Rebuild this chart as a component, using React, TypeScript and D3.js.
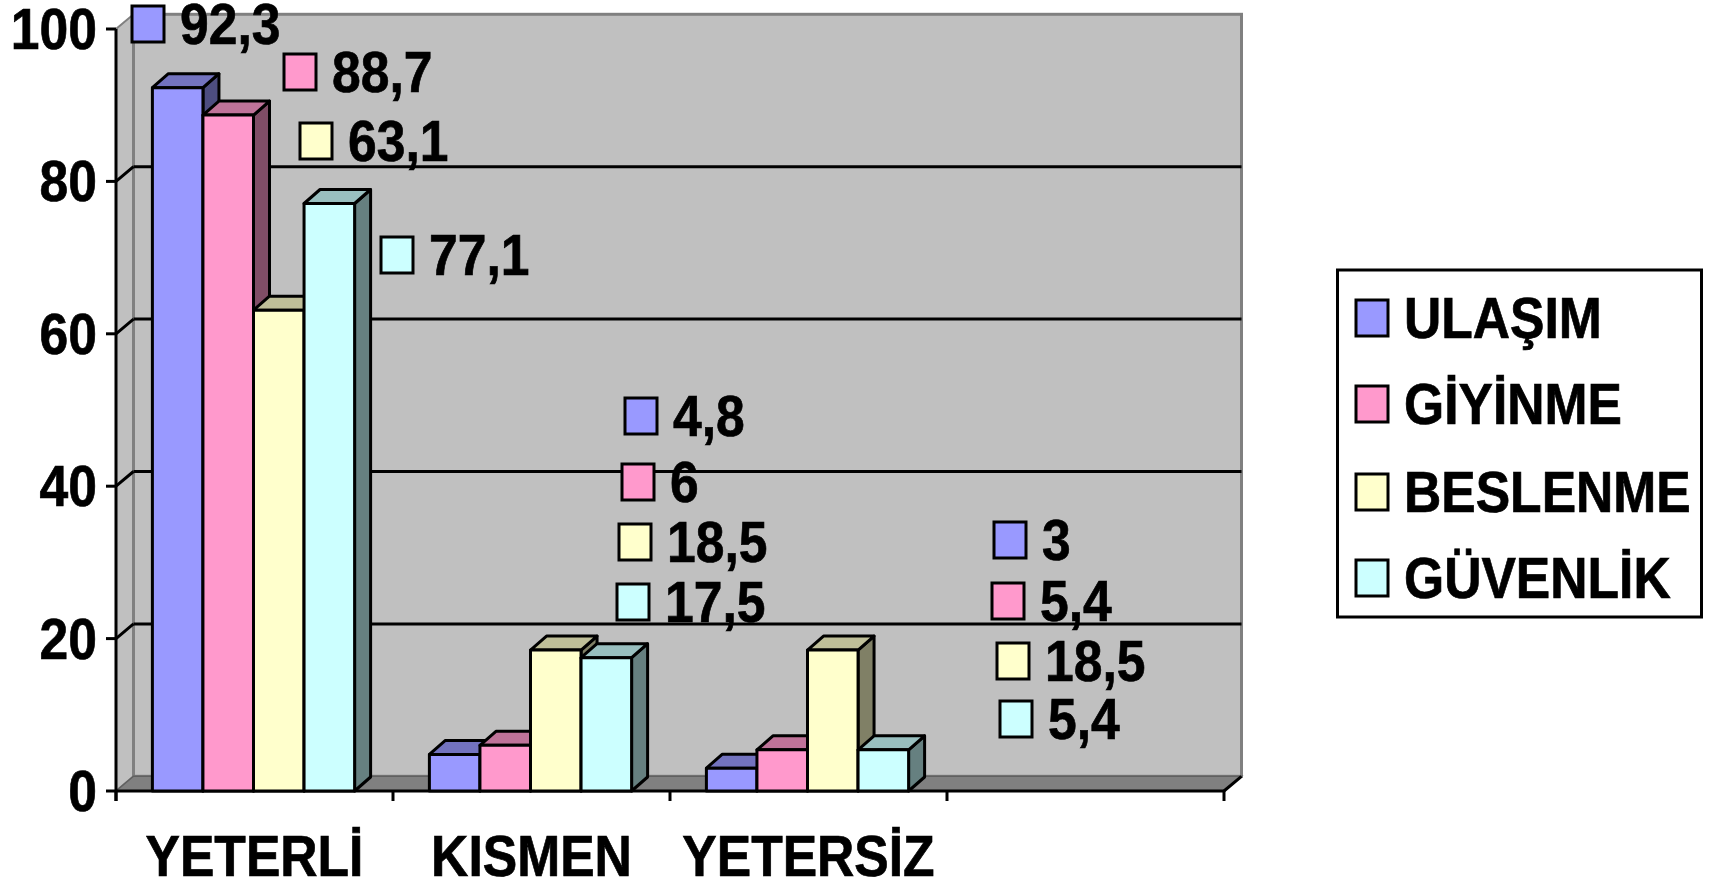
import React from "react";
import * as d3 from "d3";

const categories = ["YETERLİ", "KISMEN", "YETERSİZ", ""];
const seriesNames = ["ULAŞIM", "GİYİNME", "BESLENME", "GÜVENLİK"];
const ulasim = [92.3, 4.8, 3];
const giyinme = [88.7, 6, 5.4];
const beslenme = [63.1, 18.5, 18.5];
const guvenlik = [77.1, 17.5, 5.4];
const yTicks = [0, 20, 40, 60, 80, 100];
const seriesValues = [ulasim, giyinme, beslenme, guvenlik];

const fills = ["#9999FF", "#FF99CC", "#FFFFCC", "#CCFFFF"];
const tops = ["#7373BF", "#BF7399", "#BFBF99", "#99BFBF"];
const sides = ["#4D4D80", "#804D66", "#808066", "#668080"];

// Hand-placed label anchors: [key left, key centre y] per series, per category
const labelAnchors = [
  [[132, 24], [625, 416], [994, 540]],
  [[284, 72], [622, 482], [992, 601]],
  [[300, 141], [619, 542], [997, 661]],
  [[381, 255], [617, 602], [1000, 719]],
];
const legendRows = [318, 404, 492, 578];

const FONT = "'Liberation Sans', Arial, sans-serif";
const FONT_SIZE = 58;
const SX = 0.89;
const DX = 17.5;
const DY = 14.7;
const BX = 16;
const BY = 14;

const x0 = d3.scaleBand<string>().domain(categories).range([116, 1224]).paddingInner(0.27).paddingOuter(0.135);
const xInner = d3.scaleBand<number>().domain([0, 1, 2, 3]).range([0, x0.bandwidth()]);
const y = d3.scaleLinear().domain([0, 100]).range([791, 29]);

const ctx = document.createElement("canvas").getContext("2d") as CanvasRenderingContext2D;
function textWidth(s: string) {
  ctx.font = `bold ${FONT_SIZE}px 'Liberation Sans'`;
  return ctx.measureText(s).width * SX;
}

function Txt({ x, y: ty, s, anchor = "start" }: any) {
  const w = textWidth(s);
  const left = anchor === "end" ? x - w : anchor === "middle" ? x - w / 2 : x;
  return (
    <text
      transform={`translate(${left},${ty}) scale(${SX},1)`}
      fontFamily={FONT}
      fontWeight="bold"
      fontSize={FONT_SIZE}
      fill="#000"
      stroke="#000"
      strokeWidth={0.7}
    >
      {s}
    </text>
  );
}

export default function App() {
  const L = 116;
  const R = 1224;
  const Y0 = y(0);
  const Y100 = y(100);
  const tickXs = d3.range(5).map((i) => L + (i * (R - L)) / 4);
  return (
    <svg width={1713} height={883} style={{ position: "absolute", left: 0, top: 0, background: "#fff" }}>
      {/* walls */}
      <polygon points={`${L},${Y0} ${L + DX},${Y0 - DY} ${L + DX},${Y100 - DY} ${L},${Y100}`} fill="#C0C0C0" stroke="#808080" strokeWidth={2} />
      <rect x={L + DX} y={Y100 - DY} width={R - L} height={Y0 - Y100} fill="#C0C0C0" stroke="#808080" strokeWidth={3} />
      <polygon points={`${L},${Y0} ${L + DX},${Y0 - DY} ${R + DX},${Y0 - DY} ${R},${Y0}`} fill="#808080" stroke="#606060" strokeWidth={1.5} />
      {/* gridlines */}
      {yTicks.filter((t) => t > 0 && t < 100).map((t) => (
        <g key={t}>
          <line x1={L} y1={y(t)} x2={L + DX} y2={y(t) - DY} stroke="#000" strokeWidth={3} />
          <line x1={L + DX} y1={y(t) - DY} x2={R + DX} y2={y(t) - DY} stroke="#000" strokeWidth={3} />
        </g>
      ))}
      {/* axes */}
      <line x1={L} y1={Y100} x2={L} y2={Y0 + 10} stroke="#000" strokeWidth={3} />
      <line x1={L} y1={Y0} x2={R} y2={Y0} stroke="#000" strokeWidth={3} />
      <line x1={R} y1={Y0} x2={R + DX} y2={Y0 - DY} stroke="#000" strokeWidth={3} />
      {yTicks.map((t) => (
        <g key={t}>
          <line x1={L - 10} y1={y(t)} x2={L} y2={y(t)} stroke="#000" strokeWidth={3} />
          <Txt x={97} y={y(t) + 20} s={String(t)} anchor="end" />
        </g>
      ))}
      {tickXs.map((tx) => (
        <line key={tx} x1={tx} y1={Y0} x2={tx} y2={Y0 + 10} stroke="#000" strokeWidth={3} />
      ))}
      {/* bars */}
      {categories.slice(0, 3).map((c, ci) =>
        seriesValues.map((vals, si) => {
          const xa = (x0(c) as number) + (xInner(si) as number) - 1;
          const xb = xa + xInner.bandwidth();
          const yt = y(vals[ci]);
          return (
            <g key={c + si} stroke="#000" strokeWidth={3} strokeLinejoin="round">
              <polygon points={`${xb},${Y0} ${xb + BX},${Y0 - BY} ${xb + BX},${yt - BY} ${xb},${yt}`} fill={sides[si]} />
              <polygon points={`${xa},${yt} ${xa + BX},${yt - BY} ${xb + BX},${yt - BY} ${xb},${yt}`} fill={tops[si]} />
              <rect x={xa} y={yt} width={xb - xa} height={Y0 - yt} fill={fills[si]} />
            </g>
          );
        })
      )}
      {/* category labels */}
      {categories.slice(0, 3).map((c) => (
        <Txt key={c} x={(x0(c) as number) + x0.bandwidth() / 2} y={876} s={c} anchor="middle" />
      ))}
      {/* data labels */}
      {seriesValues.map((vals, si) =>
        vals.map((v, ci) => {
          const [kx, ky] = labelAnchors[si][ci];
          return (
            <g key={`${si}-${ci}`}>
              <rect x={kx} y={ky - 18} width={32} height={36} fill={fills[si]} stroke="#000" strokeWidth={3} />
              <Txt x={kx + 48} y={ky + 20} s={String(v).replace(".", ",")} />
            </g>
          );
        })
      )}
      {/* legend */}
      <rect x={1337.5} y={270} width={364} height={347} fill="#fff" stroke="#000" strokeWidth={3} />
      {seriesNames.map((n, i) => (
        <g key={n}>
          <rect x={1356} y={legendRows[i] - 18} width={32} height={36} fill={fills[i]} stroke="#000" strokeWidth={3} />
          <Txt x={1404} y={legendRows[i] + 20} s={n} />
        </g>
      ))}
    </svg>
  );
}
